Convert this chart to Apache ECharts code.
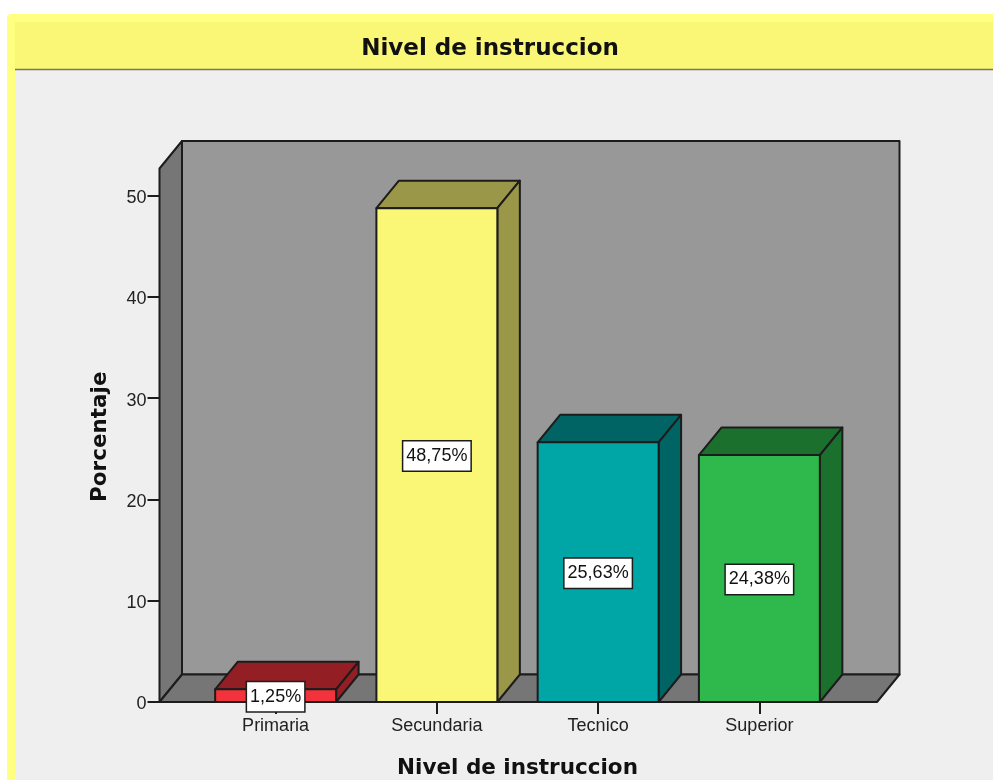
<!DOCTYPE html>
<html><head><meta charset="utf-8">
<style>html,body{margin:0;padding:0;background:#fff}#c{width:993px;height:780px}</style>
<script src="https://cdn.jsdelivr.net/npm/echarts@6/dist/echarts.min.js"></script>
</head><body><div id="c"></div>
<script>
const chartTitle = 'Nivel de instruccion';
const categories = ['Primaria', 'Secundaria', 'Tecnico', 'Superior'];
const percentages = [1.25, 48.75, 25.63, 24.38];
const valueLabels = ['1,25%', '48,75%', '25,63%', '24,38%'];
const yTicks = [0, 10, 20, 30, 40, 50];
const frontColors = ['#f4323c', '#fbf776', '#00a6a6', '#2fb84c'];
const darkColors = ['#931e24', '#9a9748', '#006464', '#1c702e'];

const DX = 22.5, DY = 27.5, PAD_L = 35.5, PAD_R = 37;
const EDGE = '#1c1c1c';
const edge = {stroke: EDGE, lineWidth: 2, lineJoin: 'round'};
const poly = (points, fill) => ({type: 'polygon', shape: {points}, style: {fill, ...edge}});

function renderWalls(params) {
  const g = params.coordSys;
  const l = g.x - PAD_L, r = g.x + g.width + PAD_R, b = g.y + g.height;
  const topFront = g.y - 27;
  return {type: 'group', children: [
    poly([[l + DX, topFront - DY], [r + DX, topFront - DY], [r + DX, b - DY], [l + DX, b - DY]], '#989898'),
    poly([[l, topFront], [l + DX, topFront - DY], [l + DX, b - DY], [l, b]], '#767676'),
    poly([[l, b], [l + DX, b - DY], [r + DX, b - DY], [r, b]], '#767676')
  ]};
}

function renderBar(params, api) {
  const i = api.value(0), v = api.value(1);
  const top = api.coord([i, v]), base = api.coord([i, 0]);
  const w = api.size([1, 0])[0] * 0.75;
  const x0 = top[0] - w / 2, x1 = top[0] + w / 2, y0 = top[1], y1 = base[1];
  return {type: 'group', children: [
    poly([[x0, y0], [x0 + DX, y0 - DY], [x1 + DX, y0 - DY], [x1, y0]], darkColors[i]),
    poly([[x1, y0], [x1 + DX, y0 - DY], [x1 + DX, y1 - DY], [x1, y1]], darkColors[i]),
    poly([[x0, y0], [x1, y0], [x1, y1], [x0, y1]], frontColors[i]),
    {type: 'text', z2: 50, style: {
      x: top[0], y: (y0 + y1) / 2 + 1, text: valueLabels[i], align: 'center', verticalAlign: 'middle',
      font: '18px "Liberation Sans"', fill: '#111', backgroundColor: '#fff',
      borderColor: EDGE, borderWidth: 1.5, padding: [6, 3, 5, 3]
    }}
  ]};
}

const chart = echarts.init(document.getElementById('c'), null, {renderer: 'canvas'});
chart.setOption({
  animation: false,
  backgroundColor: '#fff',
  graphic: [
    {type: 'rect', z: -10, shape: {x: 7, y: 14, width: 1000, height: 780, r: 4}, style: {fill: '#ffff80'}},
    {type: 'rect', z: -9, shape: {x: 15, y: 22, width: 990, height: 47}, style: {fill: '#fbf776'}},
    {type: 'rect', z: -9, shape: {x: 15, y: 70, width: 990, height: 720}, style: {fill: '#efefef'}},
    {type: 'line', z: -8, shape: {x1: 15, y1: 69.5, x2: 993, y2: 69.5}, style: {stroke: '#77775a', lineWidth: 1.5}}
  ],
  title: {
    text: chartTitle, left: 485, top: 33, textAlign: 'center',
    textStyle: {fontFamily: 'DejaVu Sans', fontWeight: 'bold', fontSize: 23, color: '#111'}
  },
  grid: {left: 195, top: 195.5, width: 645, height: 506.5, containLabel: false, outerBoundsMode: 'none'},
  xAxis: {
    type: 'category', data: categories,
    name: chartTitle, nameLocation: 'middle', nameGap: 55,
    nameTextStyle: {fontFamily: 'DejaVu Sans', fontWeight: 'bold', fontSize: 21.5, color: '#111'},
    axisLine: {show: false},
    axisTick: {show: true, alignWithLabel: true, length: 12, lineStyle: {color: EDGE, width: 2}},
    axisLabel: {margin: 15, fontFamily: 'Liberation Sans', fontSize: 18, color: '#222', interval: 0}
  },
  yAxis: {
    type: 'value', min: yTicks[0], max: yTicks[yTicks.length - 1], interval: 10, offset: 35.5,
    name: 'Porcentaje', nameLocation: 'middle', nameGap: 48, nameRotate: 90,
    nameTextStyle: {fontFamily: 'DejaVu Sans', fontWeight: 'bold', fontSize: 21.5, color: '#111', padding: [0, 0, 0, 24]},
    splitLine: {show: false},
    axisLine: {show: false},
    axisTick: {show: true, length: 12, lineStyle: {color: EDGE, width: 2}},
    axisLabel: {
      margin: 13, formatter: '{n|{value}}',
      rich: {n: {fontFamily: 'Liberation Sans', fontSize: 18, color: '#222', padding: [5, 0, 0, 0]}}
    }
  },
  series: [
    {type: 'custom', silent: true, z: 1, renderItem: renderWalls, data: [[0]], encode: {x: 0}},
    {type: 'custom', silent: true, z: 3, renderItem: renderBar,
     data: percentages.map((v, i) => [i, v]), encode: {x: 0, y: 1}}
  ]
});
</script></body></html>
